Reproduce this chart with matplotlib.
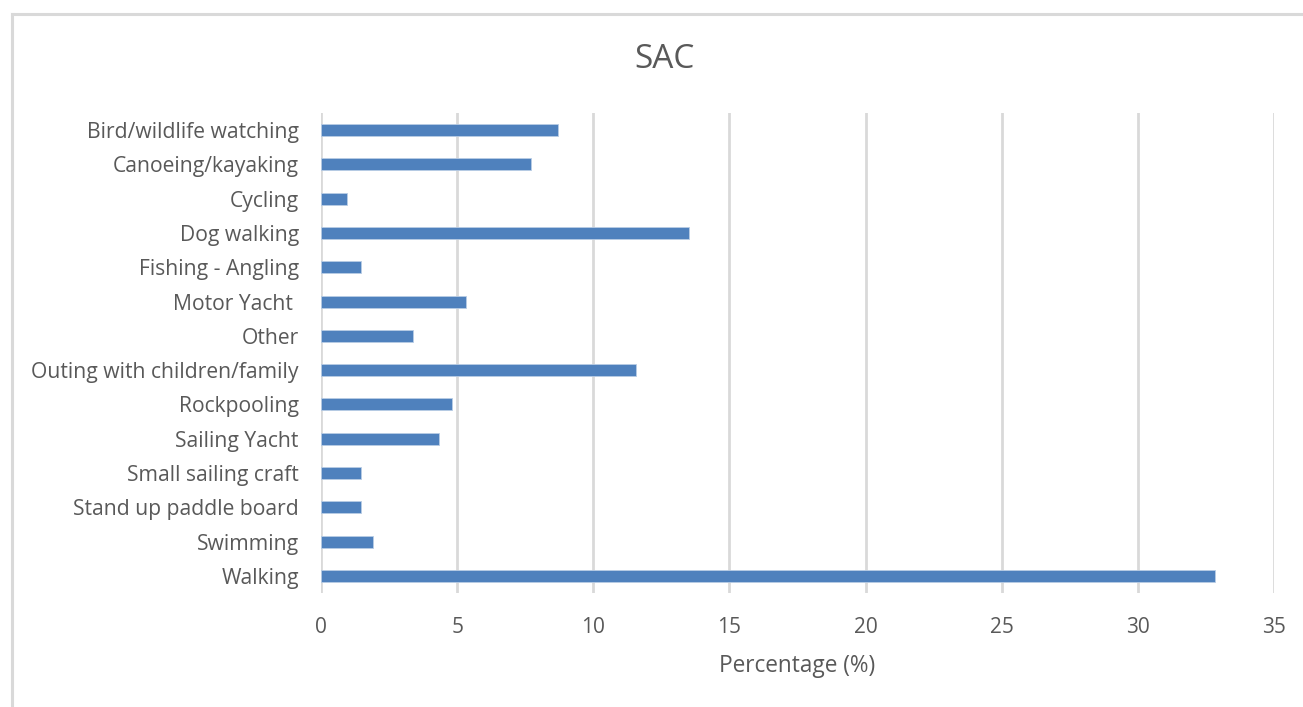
import matplotlib.pyplot as plt
from matplotlib.lines import Line2D

plt.rcParams['font.family'] = ['Open Sans', 'DejaVu Sans']

activities = ['Bird/wildlife watching', 'Canoeing/kayaking', 'Cycling', 'Dog walking',
              'Fishing - Angling', 'Motor Yacht ', 'Other', 'Outing with children/family',
              'Rockpooling', 'Sailing Yacht', 'Small sailing craft', 'Stand up paddle board',
              'Swimming', 'Walking']
percent = [8.72, 7.73, 0.94, 13.51, 1.46, 5.31, 3.39, 11.58, 4.80, 4.33, 1.46, 1.46, 1.92, 32.85]
xticks = [0, 5, 10, 15, 20, 25, 30, 35]

W, H = 1303, 707
fig = plt.figure(figsize=(W / 100, H / 100), dpi=100)
ax = fig.add_axes([321 / W, 1 - 593 / H, (1274 - 321) / W, (593 - 113) / H])

grey = '#595959'
pos = list(range(len(activities)))
ax.barh(pos, percent, height=0.35, color='#4f81bd', edgecolor='#b9cde5', linewidth=0.6, zorder=3)
ax.set_ylim(len(activities) - 0.5, -0.5)
ax.set_yticks(pos)
ax.set_yticklabels(activities, fontsize=15.2, color=grey)
ax.set_xlim(0, 35)
ax.set_xticks(xticks)
ax.set_xticklabels([str(t) for t in xticks], fontsize=15, color=grey)
ax.tick_params(axis='both', length=0)
ax.tick_params(axis='y', pad=16)
ax.tick_params(axis='x', pad=17)
ax.grid(axis='x', color='#d9d9d9', linewidth=2, zorder=0)
for s in ax.spines.values():
    s.set_visible(False)

ax.set_xlabel('Percentage (%)', fontsize=16.3, color=grey, labelpad=12)
fig.text(664 / W, 1 - 60 / H, 'SAC', fontsize=24, color=grey, ha='center', va='center')

# chart frame
fig.add_artist(Line2D([12 / W, 1.0], [1 - 14 / H, 1 - 14 / H], color='#d9d9d9', linewidth=2.2))
fig.add_artist(Line2D([12 / W, 12 / W], [0, 1 - 14 / H], color='#d9d9d9', linewidth=2.2))

fig.savefig('out.png', dpi=100, facecolor='white')
